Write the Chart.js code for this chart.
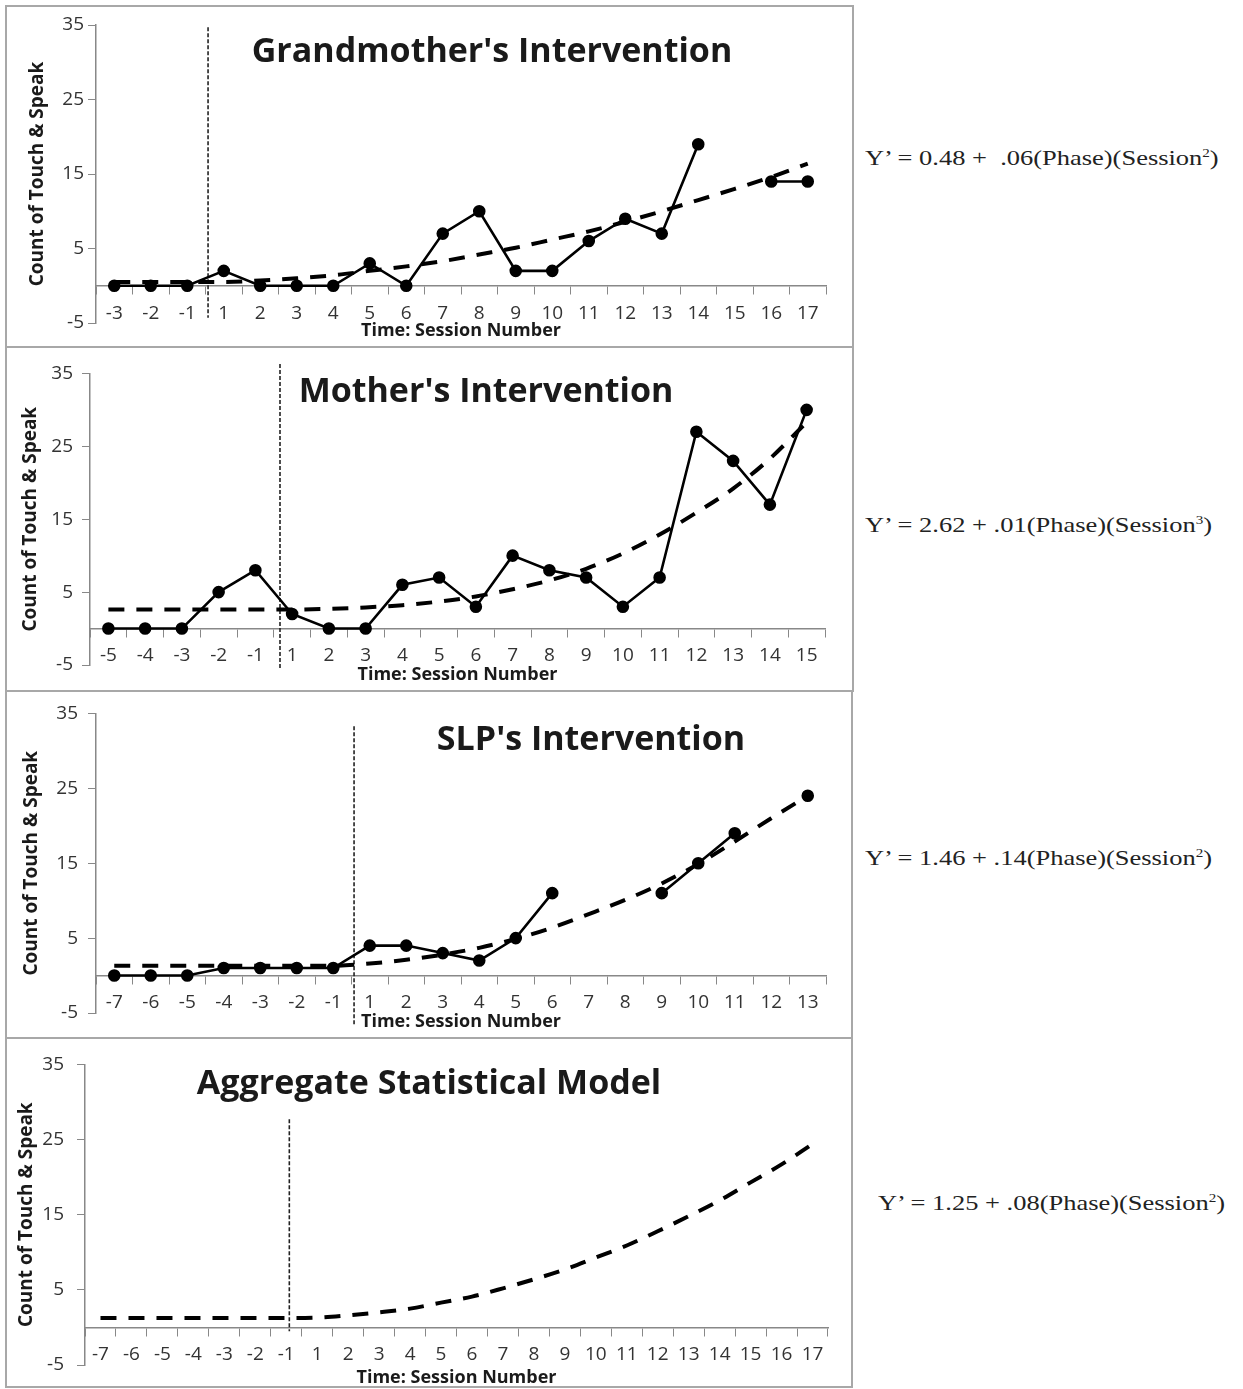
<!DOCTYPE html>
<html>
<head>
<meta charset="utf-8">
<script src="https://cdn.jsdelivr.net/npm/chart.js@4.4.1/dist/chart.umd.min.js"></script>
<style>
  body { margin: 0; background: #fff; }
  #page { position: relative; width: 1243px; height: 1389px; overflow: hidden; }
  .box { position: absolute; border: 2px solid #a8a8a8; box-sizing: border-box; }
  canvas { position: absolute; }
  .eq { position: absolute; font-family: 'Liberation Serif', serif; font-size: 21px; line-height: 24px; color: #222; white-space: pre; transform: scaleX(1.26); transform-origin: left center; }
  .eq sup { font-size: 12px; vertical-align: 8px; line-height: 0; }
</style>
</head>
<body>
<div id="page">
  <div class="box" style="left:5px;top:5px;width:849px;height:343px"></div>
  <div class="box" style="left:5px;top:346px;width:849px;height:346px"></div>
  <div class="box" style="left:5px;top:690px;width:848px;height:349px"></div>
  <div class="box" style="left:5px;top:1037px;width:848px;height:351px"></div>

  <canvas id="c1"></canvas>
  <canvas id="c2"></canvas>
  <canvas id="c3"></canvas>
  <canvas id="c4"></canvas>

  <div class="eq" style="left:865px;top:146px">Y’ = 0.48 +  .06(Phase)(Session<sup>2</sup>)</div>
  <div class="eq" style="left:865px;top:513px">Y’ = 2.62 + .01(Phase)(Session<sup>3</sup>)</div>
  <div class="eq" style="left:865px;top:846px">Y’ = 1.46 + .14(Phase)(Session<sup>2</sup>)</div>
  <div class="eq" style="left:878px;top:1191px">Y’ = 1.25 + .08(Phase)(Session<sup>2</sup>)</div>
</div>

<script>
// Grandmother's intervention
const gmLabels = ['-3', '-2', '-1', '1', '2', '3', '4', '5', '6', '7', '8', '9', '10', '11', '12', '13', '14', '15', '16', '17'];
const gmCounts = [0, 0, 0, 2, 0, 0, 0, 3, 0, 7, 10, 2, 2, 6, 9, 7, 19, null, 14, 14];
const gmTrend = [0.5, 0.5, 0.5, 0.5, 0.7, 1.0, 1.4, 2.0, 2.6, 3.3, 4.2, 5.1, 6.2, 7.3, 8.6, 10.0, 11.5, 13.0, 14.6, 16.4];

// Mother's intervention
const moLabels = ['-5', '-4', '-3', '-2', '-1', '1', '2', '3', '4', '5', '6', '7', '8', '9', '10', '11', '12', '13', '14', '15'];
const moCounts = [0, 0, 0, 5, 8, 2, 0, 0, 6, 7, 3, 10, 8, 7, 3, 7, 27, 23, 17, 30];
const moTrend = [2.6, 2.6, 2.6, 2.6, 2.6, 2.6, 2.7, 2.9, 3.2, 3.7, 4.4, 5.4, 6.6, 8.2, 10.3, 12.9, 15.9, 19.2, 23.3, 28.3];

// SLP's intervention
const slpLabels = ['-7', '-6', '-5', '-4', '-3', '-2', '-1', '1', '2', '3', '4', '5', '6', '7', '8', '9', '10', '11', '12', '13'];
const slpCounts = [0, 0, 0, 1, 1, 1, 1, 4, 4, 3, 2, 5, 11, null, null, 11, 15, 19, null, 24];
const slpTrend = [1.3, 1.3, 1.3, 1.3, 1.3, 1.3, 1.3, 1.6, 2.1, 2.8, 3.7, 4.9, 6.4, 8.2, 10.1, 12.3, 14.9, 17.9, 21.0, 24.0];

// Aggregate model
const aggLabels = ['-7', '-6', '-5', '-4', '-3', '-2', '-1', '1', '2', '3', '4', '5', '6', '7', '8', '9', '10', '11', '12', '13', '14', '15', '16', '17'];
const aggTrend = [1.25, 1.25, 1.25, 1.25, 1.25, 1.25, 1.25, 1.3, 1.6, 2.0, 2.5, 3.3, 4.1, 5.2, 6.4, 7.7, 9.3, 10.9, 12.8, 14.8, 16.9, 19.3, 21.7, 24.4];

const yTicks = [-5, 5, 15, 25, 35];

const FONT = "'Open Sans', Lato, sans-serif";
Chart.defaults.font.family = FONT;
Chart.defaults.animation = false;

const CANVAS_LEFT = 7;
const CANVAS_W = 845;
const TOP_PAD = 20;
const BOTTOM_PAD = 26;

// phase line + title drawn inside the plot
const panelDecor = {
    id: "panelDecor",
    beforeDatasetsDraw(chart, args, opts) {
        const { ctx, scales: { x, y } } = chart;
        const px = x.getPixelForValue(opts.phaseAt);
        ctx.save();
        ctx.strokeStyle = "#222";
        ctx.lineWidth = 1.6;
        ctx.setLineDash([4, 2]);
        ctx.beginPath();
        ctx.moveTo(px, y.getPixelForValue(opts.phaseSpan[0]));
        ctx.lineTo(px, y.getPixelForValue(opts.phaseSpan[1]));
        ctx.stroke();
        ctx.restore();
    },
    afterDraw(chart, args, opts) {
        const ctx = chart.ctx;
        ctx.save();
        ctx.font = "bold 34px " + FONT;
        ctx.fillStyle = "#1a1a1a";
        ctx.textAlign = "center";
        ctx.textBaseline = "alphabetic";
        ctx.fillText(opts.title, opts.titleX, opts.titleY);
        ctx.restore();
    },
};

const panels = [
    { id: "c1", labels: gmLabels, counts: gmCounts, trend: gmTrend, title: "Grandmother's Intervention",
      plotLeft: 96, plotRight: 826, top35: 25, bottom5: 323, yTitleX: 37, yTickPad: 4, xAxisH: 56,
      phaseAt: 2.57, phaseSpan: [34.7, -4.3], titleX: 492, titleBase: 62 },
    { id: "c2", labels: moLabels, counts: moCounts, trend: moTrend, title: "Mother's Intervention",
      plotLeft: 90, plotRight: 825, top35: 373, bottom5: 665, yTitleX: 30, yTickPad: 9, xAxisH: 57,
      phaseAt: 4.67, phaseSpan: [36.3, -5.6], titleX: 486, titleBase: 402 },
    { id: "c3", labels: slpLabels, counts: slpCounts, trend: slpTrend, title: "SLP's Intervention",
      plotLeft: 96, plotRight: 826, top35: 712, bottom5: 1013, yTitleX: 31, yTickPad: 10, xAxisH: 57,
      phaseAt: 6.57, phaseSpan: [33.3, -6.5], titleX: 591, titleBase: 750 },
    { id: "c4", labels: aggLabels, counts: null, trend: aggTrend, title: "Aggregate Statistical Model",
      plotLeft: 85, plotRight: 828, top35: 1060, bottom5: 1365, yTitleX: 26, yTickPad: 13, xAxisH: 61,
      phaseAt: 6.1, phaseSpan: [27.7, -0.5], titleX: 429, titleBase: 1094 },
];

panels.forEach((p) => {
    const canvas = document.getElementById(p.id);
    const canvasTop = p.top35 - TOP_PAD;
    const canvasH = p.bottom5 - canvasTop + BOTTOM_PAD;
    canvas.width = CANVAS_W;
    canvas.height = canvasH;
    canvas.style.left = CANVAS_LEFT + "px";
    canvas.style.top = canvasTop + "px";
    canvas.style.width = CANVAS_W + "px";
    canvas.style.height = canvasH + "px";

    const datasets = [];
    if (p.counts) {
        datasets.push({
            label: "Count",
            data: p.counts,
            borderColor: "#000",
            backgroundColor: "#000",
            borderWidth: 2.6,
            pointRadius: 5,
            pointBackgroundColor: "#000",
            pointBorderColor: "#000",
            spanGaps: false,
        });
    }
    datasets.push({
        label: "Model",
        data: p.trend,
        borderColor: "#000",
        borderWidth: 4,
        borderDash: [16, 12],
        pointRadius: 0,
        cubicInterpolationMode: "monotone",
    });

    new Chart(canvas, {
        type: "line",
        data: { labels: p.labels, datasets },
        options: {
            responsive: false,
            layout: { padding: { top: TOP_PAD, left: 0, bottom: BOTTOM_PAD, right: CANVAS_W - (p.plotRight - CANVAS_LEFT) } },
            plugins: {
                legend: { display: false },
                tooltip: { enabled: false },
                panelDecor: {
                    phaseAt: p.phaseAt,
                    phaseSpan: p.phaseSpan,
                    title: p.title,
                    titleX: p.titleX - CANVAS_LEFT,
                    titleY: p.titleBase - canvasTop,
                },
            },
            scales: {
                x: {
                    type: "category",
                    position: { y: 0 },
                    offset: true,
                    afterFit: (scale) => { scale.height = p.xAxisH; },
                    grid: { display: true, offset: true, drawOnChartArea: false, drawTicks: true, tickLength: 8, color: "#888" },
                    border: { display: true, color: "#888", width: 1.5 },
                    ticks: { autoSkip: false, maxRotation: 0, padding: 8, color: "#333", font: { size: 19 } },
                    title: {
                        display: true,
                        text: "Time: Session Number",
                        color: "#1a1a1a",
                        font: { size: 18, weight: "bold" },
                        padding: { top: 0, bottom: 0 },
                    },
                },
                y: {
                    min: -5,
                    max: 35,
                    afterFit: (scale) => { scale.width = p.plotLeft - CANVAS_LEFT; },
                    afterBuildTicks: (scale) => { scale.ticks = yTicks.map((v) => ({ value: v })); },
                    grid: { display: true, drawOnChartArea: false, drawTicks: true, tickLength: 8, color: "#888" },
                    border: { display: true, color: "#888", width: 1.5 },
                    ticks: { padding: p.yTickPad, color: "#333", font: { size: 19 } },
                    title: {
                        display: true,
                        text: "Count of Touch & Speak",
                        color: "#1a1a1a",
                        font: { size: 19, weight: "bold" },
                        padding: { top: p.yTitleX - CANVAS_LEFT - 11, bottom: 0 },
                    },
                },
            },
        },
        plugins: [panelDecor],
    });
});
</script>
</body>
</html>
